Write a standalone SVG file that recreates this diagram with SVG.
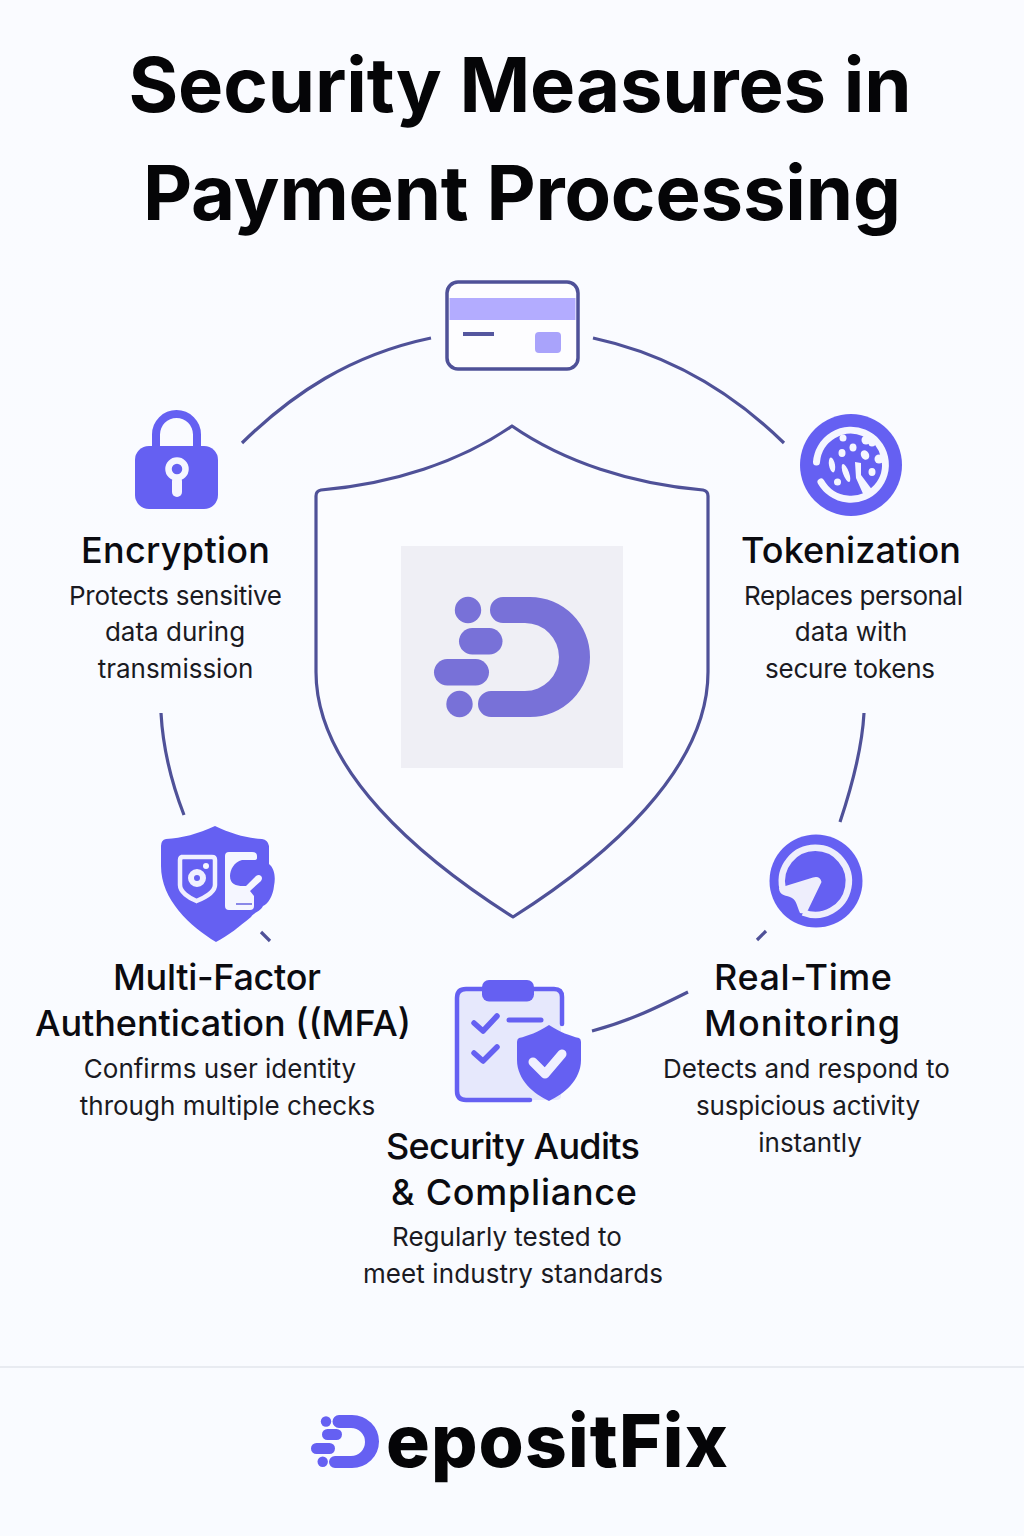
<svg xmlns="http://www.w3.org/2000/svg" width="1024" height="1536" viewBox="0 0 1024 1536">
<defs>
<linearGradient id="bg" x1="0" y1="0" x2="0" y2="1"><stop offset="0" stop-color="#fafbff"/><stop offset="1" stop-color="#f9fbff"/></linearGradient>
</defs>
<style>
text{font-family:"Inter","Liberation Sans",sans-serif;text-anchor:middle;fill:#0b0b10}
.title{font-size:76px;font-weight:700;fill:#050507}
.h{font-size:36px;font-weight:500}
.d{font-size:26px;font-weight:400;fill:#1a1a22}
.conn{fill:none;stroke:#4f5198;stroke-width:3.200}
.ic{fill:#6560f2}
.w{fill:#f5f6ff}
</style>
<rect width="1024" height="1536" fill="url(#bg)"/>
<g id="title">
<text class="title" x="520" y="112" textLength="783" lengthAdjust="spacing">Security Measures in</text>
<text class="title" x="522" y="220" textLength="758" lengthAdjust="spacing">Payment Processing</text>
</g>
<g id="connectors">
<path class="conn" d="M431 338C350 355 292 394 242 443"/>
<path class="conn" d="M593 338C672 355 734 394 784 443"/>
<path class="conn" d="M161 713C163 750 172 784 184 815"/>
<path class="conn" d="M864 713C862 750 852 786 840 822"/>
<path class="conn" d="M261 932L270 941"/>
<path class="conn" d="M766 931L757 940"/>
<path class="conn" d="M592 1031C630 1021 660 1006 688 992"/>
</g>
<g id="shield">
<path d="M512 426C460 462 392 484 321 490Q316 491 316 496V672C316 770 420 858 513 917C606 858 708 770 708 672V496Q708 491 703 490C632 484 564 462 512 426Z" fill="#fbfcff" stroke="#4f5198" stroke-width="3.200" stroke-linejoin="round"/>
<rect x="401" y="546" width="222" height="222" fill="#efeff5"/>
<g fill="#7871d8">
<circle cx="468" cy="610" r="13.200"/><circle cx="459.500" cy="704" r="13.200"/>
<rect x="459" y="628" width="43.500" height="26.500" rx="13.250"/><rect x="434" y="659" width="55" height="26.500" rx="13.250"/>
<path d="M503 597H530A60 60 0 0 1 530 717H491A13 13 0 0 1 491 691H525A34 34 0 0 0 525 623H503A13 13 0 0 1 503 597Z"/>
</g>
</g>
<g id="node-card">
<rect x="447" y="282" width="131" height="87" rx="11" fill="#fdfdff" stroke="#4f5198" stroke-width="3.500"/>
<rect x="449.500" y="298" width="126" height="22" fill="#b3acff"/>
<rect x="463" y="332" width="31" height="4" fill="#55579f"/>
<rect x="535" y="332" width="26" height="21" rx="4" fill="#a9a3fb"/>
</g>
<g id="node-encryption">
<path class="ic" d="M152 446V434.500A24.500 24.500 0 0 1 201 434.500V446H193V434.500A16.500 16.500 0 0 0 160 434.500V446Z"/>
<rect class="ic" x="135" y="446" width="83" height="63" rx="14"/>
<circle cx="177" cy="469" r="8.500" fill="none" stroke="#f5f6ff" stroke-width="6.500"/>
<rect class="w" x="172" y="476" width="10" height="21" rx="5"/>
<text class="h" x="175.500" y="563" textLength="189" lengthAdjust="spacing">Encryption</text>
<text class="d" x="175.500" y="605" textLength="213" lengthAdjust="spacing">Protects sensitive</text>
<text class="d" x="175" y="641">data during</text>
<text class="d" x="175.500" y="678">transmission</text>
</g>
<g id="node-tokenization">
<circle class="ic" cx="851" cy="465" r="51"/>
<path d="M816.500 462A34.500 34.500 0 1 1 821 482" fill="none" stroke="#f5f6ff" stroke-width="7" stroke-linecap="round"/>
<g class="w">
<ellipse cx="842" cy="453" rx="3.500" ry="4"/><ellipse cx="853" cy="447.500" rx="3.500" ry="4"/><ellipse cx="865" cy="455" rx="4" ry="5" transform="rotate(-30 865 455)"/>
<ellipse cx="832" cy="465" rx="3" ry="7.500" transform="rotate(-10 832 465)"/><ellipse cx="846" cy="473" rx="3" ry="9.500" transform="rotate(-20 846 473)"/><circle cx="837.500" cy="482" r="3.500"/>
<ellipse cx="872" cy="472" rx="3.500" ry="4"/><path d="M855 462L861 463L861 475L873 491L864 496L856 478Z"/>
<circle cx="879" cy="459" r="4.500"/><circle cx="866" cy="440" r="4.500"/><circle cx="872" cy="443" r="3.500"/><circle cx="843" cy="438" r="3.500"/>
</g>
<text class="h" x="851" y="563" textLength="220" lengthAdjust="spacing">Tokenization</text>
<text class="d" x="853.500" y="605" textLength="219" lengthAdjust="spacing">Replaces personal</text>
<text class="d" x="851" y="641">data with</text>
<text class="d" x="850" y="678" textLength="170" lengthAdjust="spacing">secure tokens</text>
</g>
<g id="node-mfa">
<path class="ic" d="M215 826C198 834 182 838 166 839Q161 840 161 846V866C161 900 190 926 216 942C228 936 240 926 251 917C254 912 260 912 263 906C268 904 273 896 274 886C276 876 274 868 269 864V846Q268 840 262 839C246 838 232 834 215 826Z"/>
<path d="M181 857H212Q215 857 215 860V885C215 892 204 898 196.500 901C189 898 180 892 180 885V860Q180 857 183 857Z" fill="none" stroke="#f0f0ff" stroke-width="4.500"/>
<circle cx="197" cy="878" r="6" fill="none" stroke="#f0f0ff" stroke-width="6"/><circle class="w" cx="206" cy="866" r="3"/>
<path class="w" d="M229 852H252Q257 852 257 856V858Q257 860 254 860H242C234 862 230 870 230 876C230 884 236 886 243 886H246L256 876Q259 874 261 876Q263 878 261 881L250 891L254 896V906Q254 910 250 910H229Q225 910 225 906V856Q225 852 229 852Z"/>
<rect x="236" y="903" width="16" height="2" fill="#8a88e8"/>
<text class="h" x="217" y="990" textLength="208" lengthAdjust="spacing">Multi-Factor</text>
<text class="h" x="223" y="1036" textLength="376" lengthAdjust="spacing">Authentication ((MFA)</text>
<text class="d" x="220" y="1078">Confirms user identity</text>
<text class="d" x="227.500" y="1115">through multiple checks</text>
</g>
<g id="node-monitoring">
<circle class="ic" cx="816" cy="881" r="46.500"/>
<path d="M782.500 888A33.500 33.500 0 1 1 803 912.500" fill="none" stroke="#eeeefc" stroke-width="6.500"/>
<path d="M779 888L813 877.500Q820 875.500 821.500 882L808 910Q806 914 800 913C797 907 797 901 792 898C787 895 779 896 779 888Z" fill="#eeeefc"/>
<text class="h" x="803" y="990" textLength="178" lengthAdjust="spacing">Real-Time</text>
<text class="h" x="802" y="1036" textLength="196" lengthAdjust="spacing">Monitoring</text>
<text class="d" x="806.500" y="1078">Detects and respond to</text>
<text class="d" x="808" y="1115" textLength="224" lengthAdjust="spacing">suspicious activity</text>
<text class="d" x="810" y="1152">instantly</text>
</g>
<g id="node-audits">
<path d="M462 989H556Q561 989 561 994V1096Q561 1100 556 1100H462Q457 1100 457 1096V994Q457 989 462 989Z" fill="#e6e8fc"/>
<path d="M492 989H466Q457 989 457 998V1091Q457 1100 466 1100H530M532 989H554Q562 989 562 997V1024" fill="none" stroke="#6560f2" stroke-width="4.500" stroke-linecap="round"/>
<rect class="ic" x="482" y="980" width="52" height="21.500" rx="7"/>
<path d="M474 1023L483 1031L497 1016M474 1053L483 1061L497 1047" fill="none" stroke="#6560f2" stroke-width="5.500" stroke-linecap="round" stroke-linejoin="round"/>
<path d="M509 1020H541" stroke="#6560f2" stroke-width="5" stroke-linecap="round"/>
<path d="M549 1025C538 1032 528 1036 519 1038Q517 1039 517 1042V1060C517 1080 534 1094 549 1101C564 1094 581 1080 581 1060V1042Q581 1039 579 1038C570 1036 560 1032 549 1025Z" fill="#6560f2"/>
<path d="M533 1062L545 1074L562 1054" fill="none" stroke="#f0f0ff" stroke-width="9" stroke-linecap="round" stroke-linejoin="round"/>
<text class="h" x="513" y="1159" textLength="254" lengthAdjust="spacing">Security Audits</text>
<text class="h" x="514" y="1205" textLength="246" lengthAdjust="spacing">&amp; Compliance</text>
<text class="d" x="507" y="1246">Regularly tested to</text>
<text class="d" x="513" y="1283" textLength="300" lengthAdjust="spacing">meet industry standards</text>
</g>
<g id="footer">
<rect x="0" y="1366" width="1024" height="2" fill="#e8ebf1"/>
<g fill="#6560f2"><circle cx="326" cy="1421.500" r="5.200"/><circle cx="322.700" cy="1461.700" r="5.200"/>
<rect x="322" y="1429" width="20" height="11" rx="5.500"/><rect x="311" y="1443" width="24" height="11" rx="5.500"/>
<path d="M339 1415H352A27 26.500 0 0 1 352 1468H335A6 6 0 0 1 335 1456H351A14 14 0 0 0 351 1428H339A6.500 6.500 0 0 1 339 1415Z"/></g>
<text x="557" y="1467" textLength="342" lengthAdjust="spacing" style="font-size:73px;font-weight:800;fill:#050507">epositFix</text>
</g>
</svg>
